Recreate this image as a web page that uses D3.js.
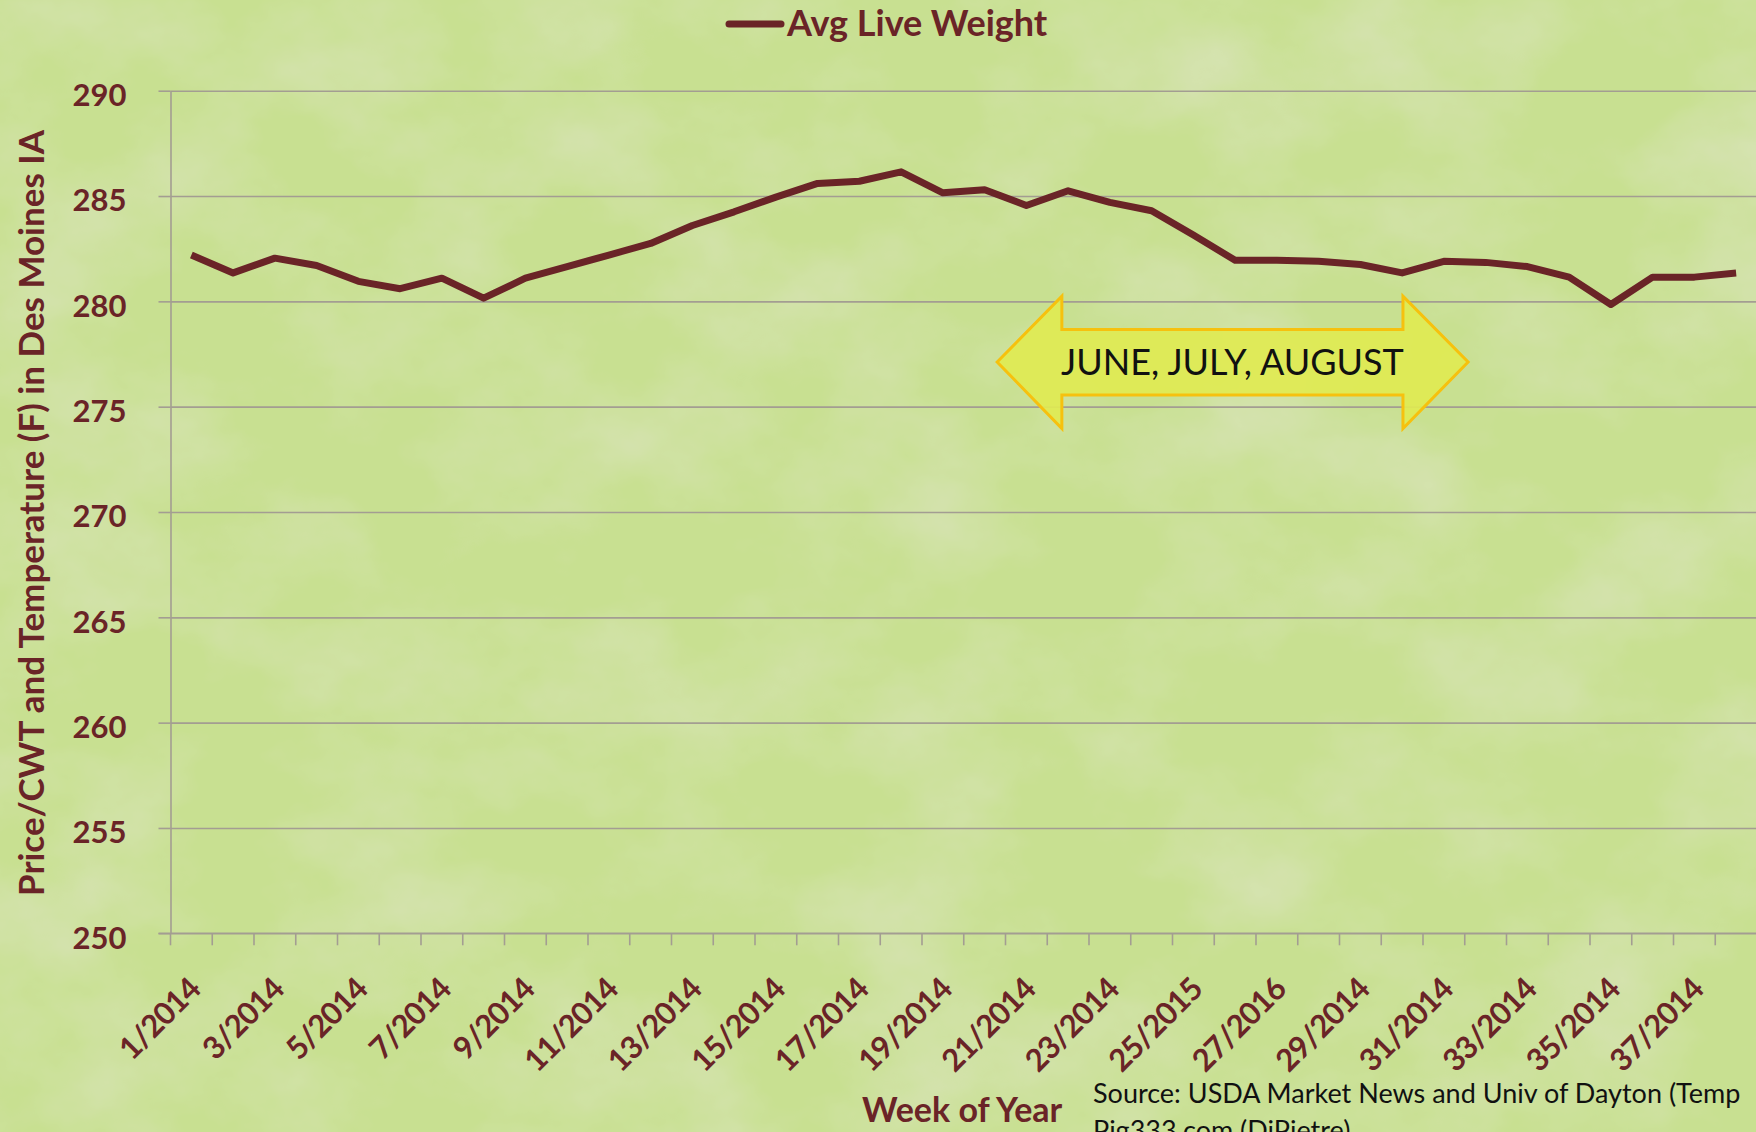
<!DOCTYPE html>
<html>
<head>
<meta charset="utf-8">
<script src="https://cdn.jsdelivr.net/npm/d3@7"></script>
<style>
  body { margin: 0; background: #c5dd8d; }
  svg { display: block; }
  text { font-family: Lato, "Open Sans", sans-serif; }
</style>
</head>
<body>
<svg id="chart" width="1756" height="1132"></svg>
<script>
// week labels (only every other one is shown on the axis)
var weeks = ["1/2014", "2/2014", "3/2014", "4/2014", "5/2014", "6/2014", "7/2014", "8/2014",
    "9/2014", "10/2014", "11/2014", "12/2014", "13/2014", "14/2014", "15/2014", "16/2014",
    "17/2014", "18/2014", "19/2014", "20/2014", "21/2014", "22/2014", "23/2014", "24/2014",
    "25/2015", "26/2015", "27/2016", "28/2014", "29/2014", "30/2014", "31/2014", "32/2014",
    "33/2014", "34/2014", "35/2014", "36/2014", "37/2014", "38/2014"];

var avgLiveWeight = [282.2, 281.35, 282.05, 281.7, 280.95, 280.6, 281.1, 280.15,
    281.1, 281.65, 282.2, 282.75, 283.6, 284.25, 284.95, 285.6,
    285.7, 286.15, 285.15, 285.3, 284.55, 285.25, 284.7, 284.3,
    283.15, 281.95, 281.95, 281.9, 281.75, 281.35, 281.9, 281.85,
    281.65, 281.15, 279.85, 281.15, 281.15, 281.35];

var yTicks = [250, 255, 260, 265, 270, 275, 280, 285, 290];

// annotation arrow, in week units (x) and axis units (y)
var arrowWeeks = [19.8, 21.35, 29.52, 31.08];
var arrowVals = [280.25, 278.66, 277.12, 275.55, 273.96];
var arrowLabel = "JUNE, JULY, AUGUST";

function draw() {
    var maroon = "#6a2427";
    var gridCol = "#a39d92";

    var svg = d3.select("#chart");

    /* paper texture */
    var defs = svg.append("defs");
    var f = defs.append("filter").attr("id", "paper")
        .attr("x", 0).attr("y", 0).attr("width", "100%").attr("height", "100%");
    f.append("feTurbulence").attr("type", "fractalNoise")
        .attr("baseFrequency", "0.006 0.008").attr("numOctaves", 5).attr("seed", 7);
    f.append("feColorMatrix").attr("type", "matrix")
        .attr("values", "0 0 0 0 0.68  0 0 0 0 0.77  0 0 0 0 0.46  1.8 0 0 0 -0.72");

    svg.append("rect").attr("width", 1756).attr("height", 1132).attr("fill", "#c8e091");
    svg.append("rect").attr("width", 1756).attr("height", 1132).attr("filter", "url(#paper)");

    var pLeft = 170.5, pRight = 1757, pTop = 90.7, pBottom = 933.3;

    var x = d3.scaleBand().domain(weeks).range([pLeft, pRight]).padding(0);
    var xu = d3.scaleLinear().domain([0, weeks.length]).range([pLeft, pRight]);
    var y = d3.scaleLinear().domain([250, 290]).range([pBottom, pTop]);

    /* gridlines */
    svg.append("g")
        .attr("transform", "translate(" + pLeft + ",0)")
        .call(d3.axisLeft(y).tickValues(yTicks).tickSize(-(pRight - pLeft)).tickFormat(""))
        .call(function (g) { g.select(".domain").remove(); })
        .selectAll("line").attr("stroke", gridCol).attr("stroke-width", 1.6);

    /* y axis */
    var yAxis = svg.append("g")
        .attr("transform", "translate(" + pLeft + ",0)")
        .call(d3.axisLeft(y).tickValues(yTicks).tickSize(12).tickPadding(32).tickSizeOuter(0));
    yAxis.select(".domain").attr("stroke", gridCol).attr("stroke-width", 1.6);
    yAxis.selectAll("line").attr("stroke", gridCol).attr("stroke-width", 1.6);
    yAxis.selectAll("text")
        .attr("fill", maroon).attr("font-size", 31).attr("font-weight", 700)
        .attr("font-family", "'Open Sans', Lato, sans-serif")
        .attr("dy", "0.48em");

    /* x axis line + ticks between categories */
    svg.append("line")
        .attr("x1", pLeft - 12).attr("x2", pRight)
        .attr("y1", pBottom).attr("y2", pBottom)
        .attr("stroke", gridCol).attr("stroke-width", 1.6);
    svg.append("g").selectAll("line")
        .data(d3.range(weeks.length + 1))
        .enter().append("line")
        .attr("x1", function (d) { return xu(d); })
        .attr("x2", function (d) { return xu(d); })
        .attr("y1", pBottom).attr("y2", pBottom + 12)
        .attr("stroke", gridCol).attr("stroke-width", 1.6);

    /* x labels */
    svg.append("g").selectAll("text")
        .data(weeks.filter(function (d, i) { return i % 2 === 0; }))
        .enter().append("text")
        .attr("transform", function (d) {
            return "translate(" + (x(d) + x.bandwidth() / 2 + 11) + ",991) rotate(-45)";
        })
        .attr("text-anchor", "end")
        .attr("fill", maroon).attr("font-size", 31).attr("font-weight", 700)
        .attr("font-family", "'Open Sans', Lato, sans-serif")
        .attr("letter-spacing", -0.8)
        .text(function (d) { return d; });

    /* line */
    var line = d3.line()
        .x(function (d, i) { return x(weeks[i]) + x.bandwidth() / 2; })
        .y(function (d) { return y(d); });

    svg.append("path")
        .datum(avgLiveWeight)
        .attr("d", line)
        .attr("fill", "none")
        .attr("stroke", maroon)
        .attr("stroke-width", 7)
        .attr("stroke-linejoin", "round");

    /* annotation arrow */
    var ax = arrowWeeks.map(function (w) { return xu(w); });
    var ay = arrowVals.map(function (v) { return y(v); });
    var pts = [[ax[0], ay[2]], [ax[1], ay[0]], [ax[1], ay[1]], [ax[2], ay[1]], [ax[2], ay[0]],
        [ax[3], ay[2]], [ax[2], ay[4]], [ax[2], ay[3]], [ax[1], ay[3]], [ax[1], ay[4]]];
    svg.append("path")
        .attr("d", "M" + pts.join("L") + "Z")
        .attr("fill", "#e0ea52").attr("fill-opacity", 0.92)
        .attr("stroke", "#f6c10e").attr("stroke-width", 3)
        .attr("stroke-linejoin", "miter");
    svg.append("text")
        .attr("x", (ax[1] + ax[2]) / 2).attr("y", ay[2])
        .attr("dy", "0.36em")
        .attr("text-anchor", "middle")
        .attr("font-size", 36)
        .attr("fill", "#111")
        .text(arrowLabel);

    /* legend */
    svg.append("line")
        .attr("x1", 729).attr("x2", 781).attr("y1", 24).attr("y2", 24)
        .attr("stroke", maroon).attr("stroke-width", 7).attr("stroke-linecap", "round");
    svg.append("text")
        .attr("x", 787).attr("y", 36)
        .attr("fill", maroon).attr("font-size", 36).attr("font-weight", 700)
        .text("Avg Live Weight");

    /* axis titles */
    svg.append("text")
        .attr("transform", "translate(44,513) rotate(-90)")
        .attr("text-anchor", "middle")
        .attr("fill", maroon).attr("font-size", 35).attr("font-weight", 700)
        .attr("font-family", "'Open Sans', Lato, sans-serif")
        .text("Price/CWT and Temperature (F) in Des Moines IA");

    svg.append("text")
        .attr("x", 862).attr("y", 1122)
        .attr("fill", maroon).attr("font-size", 34).attr("font-weight", 700)
        .text("Week of Year");

    /* source note */
    var src = svg.append("text")
        .attr("x", 1093).attr("y", 1103)
        .attr("fill", "#111").attr("font-size", 27);
    src.append("tspan").attr("x", 1093).text("Source: USDA Market News and Univ of Dayton (Temp");
    src.append("tspan").attr("x", 1093).attr("dy", 37).text("Pig333.com (DiPietre)");
}

draw();
</script>
</body>
</html>
